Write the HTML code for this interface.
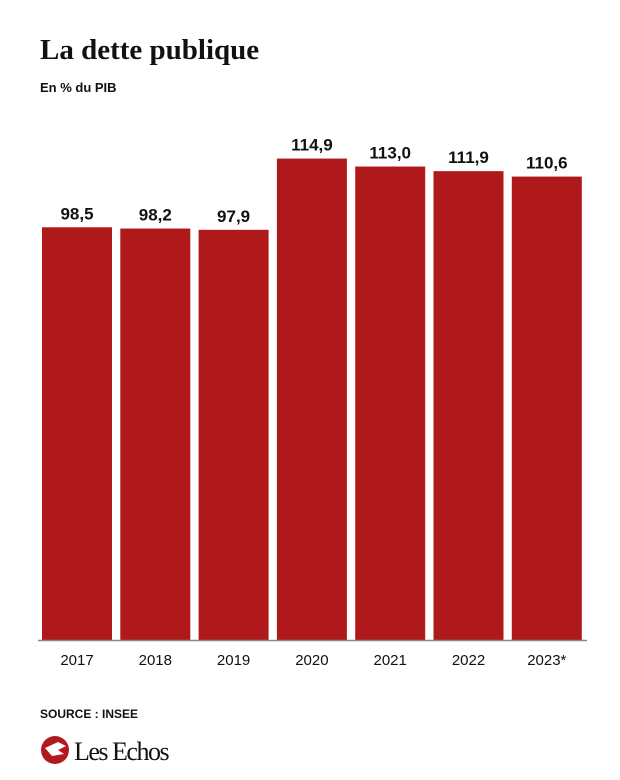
<!DOCTYPE html>
<html><head><meta charset="utf-8"><style>
body{margin:0;background:#fff;width:620px;height:775px;overflow:hidden;font-family:"Liberation Sans",sans-serif}
</style></head><body>
<svg width="620" height="775">
<text x="40" y="59" font-family="Liberation Serif,serif" font-weight="bold" font-size="29" fill="#111">La dette publique</text>
<text x="40" y="92" font-weight="bold" font-size="13" fill="#111">En % du PIB</text>
<g id="bars"></g>
<line x1="38" y1="640.5" x2="587" y2="640.5" stroke="#888" stroke-width="1.5"/>
<text x="40" y="718" font-weight="bold" font-size="12" fill="#111">SOURCE : INSEE</text>
<g>
<circle cx="55" cy="750" r="14" fill="#b01a1c"/>
<path d="M45 748 L58 742 L66 746 L58 750 L64 754 L52 756 Z" fill="#fff"/>
<text x="74" y="760" font-family="Liberation Serif,serif" font-size="26" fill="#111" letter-spacing="-1.5">Les Echos</text>
</g>
</svg>
<script>
const categories=["2017","2018","2019","2020","2021","2022","2023*"];
const values=[98.5,98.2,97.9,114.9,113.0,111.9,110.6];
const valueLabels=["98,5","98,2","97,9","114,9","113,0","111,9","110,6"];
const NS="http://www.w3.org/2000/svg";
const g=document.getElementById('bars');
const y0=640,k=4.19,x0=42,step=78.3,bw=70;
function y(v){return y0-v*k;}
function x(i){return x0+i*step;}
categories.forEach((c,i)=>{
 const r=document.createElementNS(NS,'rect');
 r.setAttribute('x',x(i));r.setAttribute('y',y(values[i]));
 r.setAttribute('width',bw);r.setAttribute('height',y0-y(values[i]));
 r.setAttribute('fill','#b0191c');
 
 
 g.appendChild(r);
 const t=document.createElementNS(NS,'text');
 t.setAttribute('x',x(i)+bw/2);t.setAttribute('y',y(values[i])-8);
 t.setAttribute('text-anchor','middle');t.setAttribute('font-weight','bold');
 t.setAttribute('font-size','17');t.setAttribute('fill','#111');
 t.textContent=valueLabels[i];
 
 
 g.appendChild(t);
 const l=document.createElementNS(NS,'text');
 l.setAttribute('x',x(i)+bw/2);l.setAttribute('y',665);
 l.setAttribute('text-anchor','middle');l.setAttribute('font-size','15');l.setAttribute('fill','#111');
 l.textContent=c;
 
 
 g.appendChild(l);
});
</script>
</body></html>
